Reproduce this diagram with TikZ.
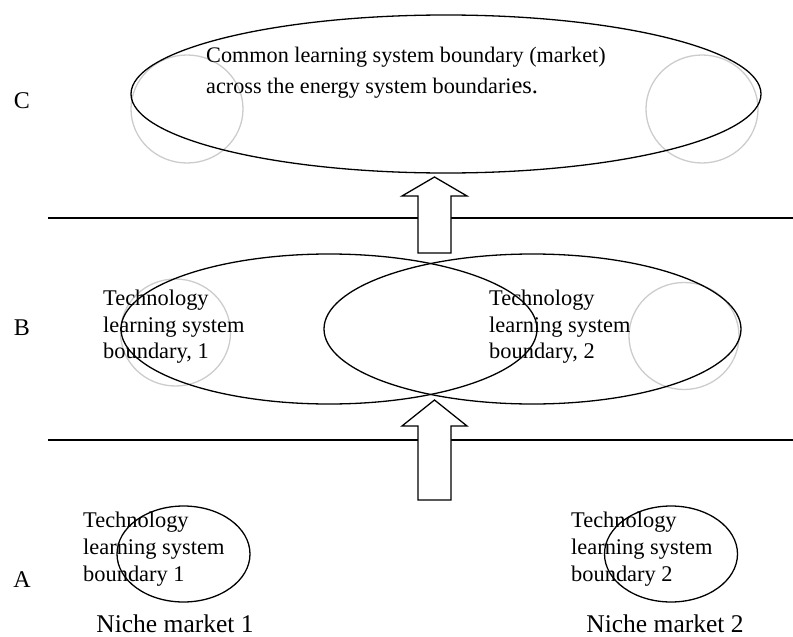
\documentclass[tikz,border=0pt]{standalone}
\usepackage{fontspec}
\setmainfont{Liberation Serif}
\usetikzlibrary{shapes.geometric}
\begin{document}
\begin{tikzpicture}[x=1pt,y=-1pt,
  bound/.style={draw=black, line width=1.3pt, ellipse, inner sep=0pt},
  halo/.style={draw=black!20, line width=1.3pt, ellipse, inner sep=0pt},
  level/.style={font=\fontsize{24}{28}\selectfont, inner sep=0pt},
  boxtext/.style={anchor=north west, align=left, inner sep=0pt, font=\fontsize{22.4}{26.7}\selectfont},
  market/.style={anchor=base, font=\fontsize{25.5}{30}\selectfont, inner sep=0pt},
  divider/.style={line width=1.3pt},
  blockarrow/.style={draw=black, line width=1.3pt, fill=white, line join=miter}
]
\useasboundingbox (0,0) rectangle (793,637);

% level labels
\node[level] (lc) at (22,101) {C};
\node[level] (lb) at (22,328) {B};
\node[level] (la) at (22,580) {A};

% dividers between the levels
\coordinate (d1l) at (48,218);  \coordinate (d1r) at (793,218);
\coordinate (d2l) at (48,440);  \coordinate (d2r) at (793,440);
\draw[divider] (d1l) -- (d1r);
\draw[divider] (d2l) -- (d2r);

% level C: common boundary
\node[halo, minimum width=112pt, minimum height=108pt] (hc1) at (187,109) {};
\node[halo, minimum width=112pt, minimum height=108pt] (hc2) at (702,109) {};
\node[bound, minimum width=630pt, minimum height=158pt] (common) at (446,94) {};
\node[anchor=north west, align=left, inner sep=0pt, font=\fontsize{22.2}{31}\selectfont] (ctext) at (206,46.5)
  {Common learning system boundary (market)\\across the energy system boundari{\fontsize{24.5}{31}\selectfont es.}};

% level B: two overlapping technology boundaries
\node[halo, minimum width=110pt, minimum height=107pt] (hb1) at (175.5,332.5) {};
\node[halo, minimum width=110pt, minimum height=107pt] (hb2) at (684,336) {};
\node[bound, minimum width=416pt, minimum height=150pt] (tb1) at (329,329) {};
\node[bound, minimum width=417pt, minimum height=150pt] (tb2) at (532.5,329) {};
\node[boxtext] (tb1text) at (103,289.7) {Technology\\learning system\\boundary, 1};
\node[boxtext] (tb2text) at (489,289.7) {Technology\\learning system\\boundary, 2};

% level A: niche markets
\node[bound, minimum width=133pt, minimum height=96pt] (na1) at (183.5,554) {};
\node[bound, minimum width=133pt, minimum height=96pt] (na2) at (671,554) {};
\node[boxtext] (na1text) at (83,512) {Technology\\learning system\\boundary 1};
\node[boxtext] (na2text) at (571,512) {Technology\\learning system\\boundary 2};
\node[market] (m1) at (175,632) {Niche market 1};
\node[market] (m2) at (665,632) {Niche market 2};

% block arrows between the levels
\coordinate (tipC) at (434.5,177);
\draw[blockarrow] (tipC) -- ++(32.5,19) -- ++(-16,0) -- ++(0,57) -- ++(-33,0)
  -- ++(0,-57) -- ++(-16,0) -- cycle;
\coordinate (tipB) at (434.5,400);
\draw[blockarrow] (tipB) -- ++(32.5,26) -- ++(-16,0) -- ++(0,74) -- ++(-33,0)
  -- ++(0,-74) -- ++(-16,0) -- cycle;
\end{tikzpicture}
\end{document}
